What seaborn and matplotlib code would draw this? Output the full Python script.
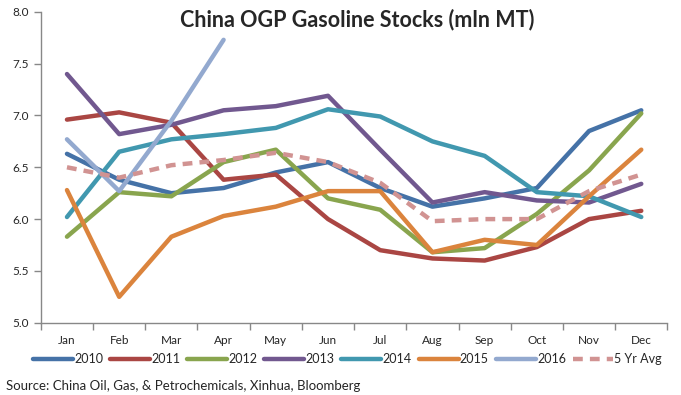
import matplotlib
matplotlib.use("Agg")
import matplotlib.pyplot as plt
import seaborn as sns
import pandas as pd

# month labels on the x axis
months = ["Jan", "Feb", "Mar", "Apr", "May", "Jun", "Jul", "Aug", "Sep", "Oct", "Nov", "Dec"]

# gasoline stocks, mln MT
s2010 = [6.63, 6.38, 6.25, 6.30, 6.45, 6.55, 6.30, 6.12, 6.20, 6.30, 6.85, 7.05]
s2011 = [6.96, 7.03, 6.93, 6.38, 6.43, 6.00, 5.70, 5.62, 5.60, 5.73, 6.00, 6.08]
s2012 = [5.83, 6.26, 6.22, 6.55, 6.67, 6.20, 6.09, 5.68, 5.72, 6.05, 6.47, 7.02]
s2013 = [7.40, 6.82, 6.91, 7.05, 7.09, 7.19, 6.67, 6.16, 6.26, 6.18, 6.16, 6.34]
s2014 = [6.02, 6.65, 6.77, 6.82, 6.88, 7.06, 6.99, 6.75, 6.61, 6.26, 6.22, 6.02]
s2015 = [6.28, 5.25, 5.83, 6.03, 6.12, 6.27, 6.27, 5.68, 5.80, 5.75, 6.22, 6.67]
s2016 = [6.77, 6.27, 6.95, 7.73]
avg5 = [6.50, 6.40, 6.52, 6.57, 6.64, 6.55, 6.35, 5.98, 6.00, 6.00, 6.27, 6.43]

names = ["2010", "2011", "2012", "2013", "2014", "2015", "2016", "5 Yr Avg"]
values = [s2010, s2011, s2012, s2013, s2014, s2015, s2016, avg5]
colors = ["#4572A7", "#AA4643", "#89A54E", "#71588F", "#4198AF", "#DB843D", "#93A9CF", "#D19392"]

# long table for seaborn
rows = []
for name, vals in zip(names, values):
    for i, v in enumerate(vals):
        rows.append({"month": i, "stock": v, "series": name})
df = pd.DataFrame(rows)

sns.set_style("white")
plt.rcParams["font.family"] = ["Lato", "DejaVu Sans"]

fig = plt.figure(figsize=(6.81, 3.95), dpi=100)
ax = fig.add_axes([0.06, 0.183, 0.92, 0.787])

palette = dict(zip(names, colors))
dashes = {n: "" for n in names}
dashes["5 Yr Avg"] = (2.2, 1.6)
sns.lineplot(data=df, x="month", y="stock", hue="series", style="series",
             palette=palette, dashes=dashes, linewidth=3.2, ax=ax, legend=False,
             estimator=None, sort=False)

ax.set_ylim(5.0, 8.0)
ax.set_xlim(-0.5, 11.5)
ax.set_yticks([5.0, 5.5, 6.0, 6.5, 7.0, 7.5, 8.0])
ax.set_yticklabels(["5.0", "5.5", "6.0", "6.5", "7.0", "7.5", "8.0"])
ax.set_xticks(range(12))
ax.set_xticklabels(months)
ax.set_xticks([i - 0.5 for i in range(13)], minor=True)
ax.tick_params(axis="x", which="major", bottom=True, length=0, pad=9, labelsize=8.5)
ax.tick_params(axis="x", which="minor", bottom=True, length=5, width=1,
               color="#888888", direction="out")
ax.tick_params(axis="y", length=5, width=1, color="#888888", direction="out",
               left=True, labelsize=8.5)
ax.set_xlabel("")
ax.set_ylabel("")
for side in ["top", "right"]:
    ax.spines[side].set_visible(False)
for side in ["left", "bottom"]:
    ax.spines[side].set_color("#888888")
    ax.spines[side].set_linewidth(1)

ax.set_title("China OGP Gasoline Stocks (mln MT)", fontsize=15.5, fontweight="bold",
             x=0.505, y=0.925)

handles = []
for n, c in zip(names, colors):
    ls = (0, (2.2, 1.6)) if n == "5 Yr Avg" else "-"
    h, = ax.plot([], [], color=c, linewidth=3.2, linestyle=ls)
    handles.append(h)
fig.legend(handles, names, loc="center", bbox_to_anchor=(0.51, 0.09), ncol=8,
           frameon=False, fontsize=9, handlelength=3.2, handletextpad=0.1,
           columnspacing=0.55)

fig.text(0.009, 0.008, "Source: China Oil, Gas, & Petrochemicals, Xinhua, Bloomberg",
         fontsize=9.5, ha="left", va="bottom")

fig.savefig("out.png", dpi=100)
